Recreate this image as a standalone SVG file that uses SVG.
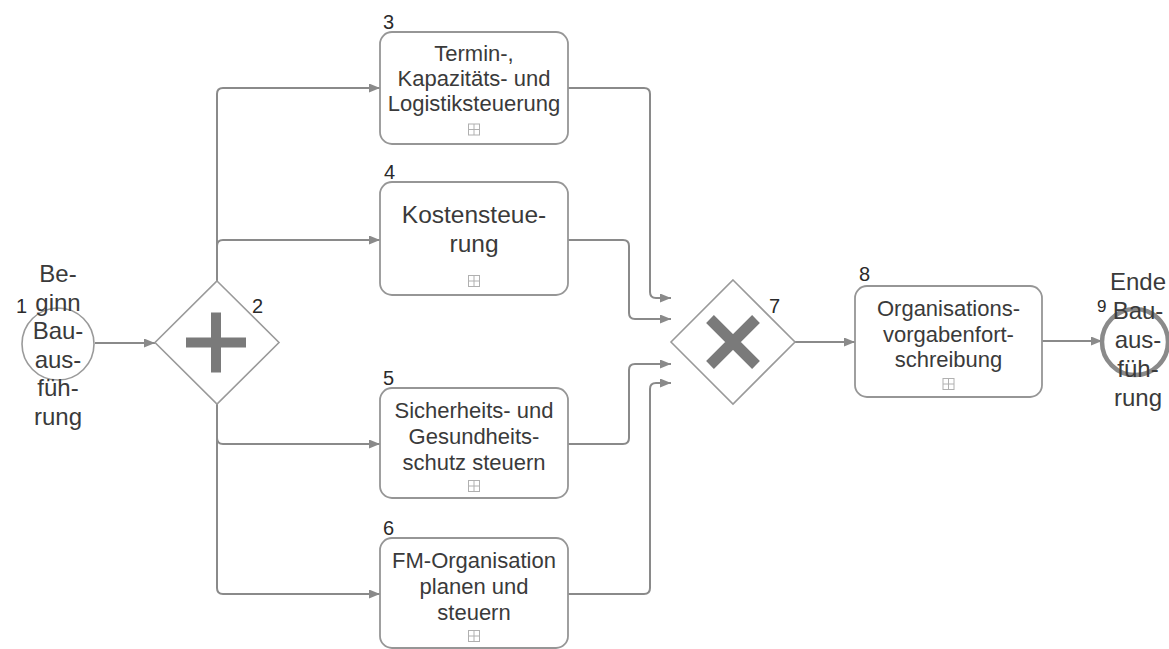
<svg xmlns="http://www.w3.org/2000/svg" width="1169" height="649" viewBox="0 0 1169 649">
<style>
.task{fill:#fff;stroke:#969696;stroke-width:1.8}
.gw{fill:#fff;stroke:#9a9a9a;stroke-width:1.6}
.lbl{font-family:"Liberation Sans",Arial,sans-serif;font-size:22px;fill:#3a3a3a;text-anchor:middle}
.big{font-size:24.5px}
.ev{font-family:"Liberation Sans",Arial,sans-serif;font-size:24px;fill:#3a3a3a;text-anchor:middle}
.num{font-family:"Liberation Sans",Arial,sans-serif;font-size:20px;fill:#2a2a2a}
.conn{fill:none;stroke:#8a8a8a;stroke-width:2}
.sym{fill:#7a7a7a}
</style>
<defs>
<marker id="arr" markerUnits="userSpaceOnUse" markerWidth="11" markerHeight="9" refX="11" refY="4.5" orient="auto">
<path d="M0,0 L11,4.5 L0,9 z" fill="#8a8a8a"/>
</marker>
<g id="exp">
<rect x="-5.5" y="-5.5" width="11" height="11" fill="#fff" stroke="#b0b0b0" stroke-width="1"/>
<path d="M0,-5.5 V5.5 M-5.5,0 H5.5" stroke="#b0b0b0" stroke-width="1"/>
</g>
</defs>

<g id="connectors">
<path class="conn" marker-end="url(#arr)" d="M95,343 H155"/>
<path class="conn" marker-end="url(#arr)" d="M217,281 V94 Q217,88 223,88 H380"/>
<path class="conn" marker-end="url(#arr)" d="M217,281 V246 Q217,240 223,240 H380"/>
<path class="conn" marker-end="url(#arr)" d="M217,404 V438 Q217,444 223,444 H380"/>
<path class="conn" marker-end="url(#arr)" d="M217,404 V588 Q217,594 223,594 H380"/>
<path class="conn" marker-end="url(#arr)" d="M568,88 H644 Q650,88 650,94 V292 Q650,298 656,298 H671"/>
<path class="conn" marker-end="url(#arr)" d="M568,240 H623 Q629,240 629,246 V313 Q629,319 635,319 H671"/>
<path class="conn" marker-end="url(#arr)" d="M568,444 H623 Q629,444 629,438 V370 Q629,364 635,364 H671"/>
<path class="conn" marker-end="url(#arr)" d="M568,594 H644 Q650,594 650,588 V389 Q650,383 656,383 H671"/>
<path class="conn" marker-end="url(#arr)" d="M795,342 H855"/>
<path class="conn" marker-end="url(#arr)" d="M1042,341 H1102"/>
</g>

<g id="n1">
<circle cx="58" cy="344" r="36" fill="#fff" stroke="#9a9a9a" stroke-width="1.6"/>
<text class="num" x="16" y="313">1</text>
<text class="ev" x="58" y="282">Be-</text>
<text class="ev" x="58" y="310.5">ginn</text>
<text class="ev" x="58" y="339">Bau-</text>
<text class="ev" x="58" y="367.5">aus-</text>
<text class="ev" x="58" y="396">füh-</text>
<text class="ev" x="58" y="424.5">rung</text>
</g>

<g id="n2">
<path class="gw" d="M217,281 L279,342.5 L217,404 L155,342.5 Z"/>
<rect class="sym" x="186" y="337.5" width="60" height="10"/>
<rect class="sym" x="211" y="312.5" width="10" height="60"/>
<text class="num" x="252" y="313">2</text>
</g>

<g id="n3">
<rect class="task" x="380" y="32" width="188" height="112" rx="12"/>
<text class="num" x="383" y="29">3</text>
<text class="lbl" x="474" y="61">Termin-,</text>
<text class="lbl" x="474" y="86">Kapazitäts- und</text>
<text class="lbl" x="474" y="111">Logistiksteuerung</text>
<use href="#exp" x="474" y="129.5"/>
</g>

<g id="n4">
<rect class="task" x="380" y="182" width="188" height="113" rx="12"/>
<text class="num" x="384" y="179">4</text>
<text class="lbl big" x="474" y="223">Kostensteue-</text>
<text class="lbl big" x="474" y="252">rung</text>
<use href="#exp" x="474" y="281"/>
</g>

<g id="n5">
<rect class="task" x="380" y="388" width="188" height="110" rx="12"/>
<text class="num" x="383" y="385">5</text>
<text class="lbl" x="474" y="418">Sicherheits- und</text>
<text class="lbl" x="474" y="444">Gesundheits-</text>
<text class="lbl" x="474" y="470">schutz steuern</text>
<use href="#exp" x="474" y="486"/>
</g>

<g id="n6">
<rect class="task" x="380" y="538" width="188" height="110" rx="12"/>
<text class="num" x="383" y="535">6</text>
<text class="lbl" x="474" y="568">FM-Organisation</text>
<text class="lbl" x="474" y="594">planen und</text>
<text class="lbl" x="474" y="620">steuern</text>
<use href="#exp" x="474" y="636"/>
</g>

<g id="n7">
<path class="gw" d="M733,280 L795,342 L733,404 L671,342 Z"/>
<path d="M710,319 L756,365 M756,319 L710,365" stroke="#7a7a7a" stroke-width="11" fill="none"/>
<text class="num" x="769" y="313">7</text>
</g>

<g id="n8">
<rect class="task" x="855" y="286" width="187" height="111" rx="12"/>
<text class="num" x="859" y="281">8</text>
<text class="lbl" x="948.5" y="316">Organisations-</text>
<text class="lbl" x="948.5" y="341.5">vorgabenfort-</text>
<text class="lbl" x="948.5" y="367">schreibung</text>
<use href="#exp" x="948.5" y="384"/>
</g>

<g id="n9">
<circle cx="1135" cy="342" r="33" fill="#fff" stroke="#8a8a8a" stroke-width="4.5"/>
<text class="num" x="1097" y="312" style="font-size:17px">9</text>
<text class="ev" x="1138" y="290">Ende</text>
<text class="ev" x="1138" y="319">Bau-</text>
<text class="ev" x="1138" y="348">aus-</text>
<text class="ev" x="1138" y="377">füh-</text>
<text class="ev" x="1138" y="406">rung</text>
</g>
</svg>
